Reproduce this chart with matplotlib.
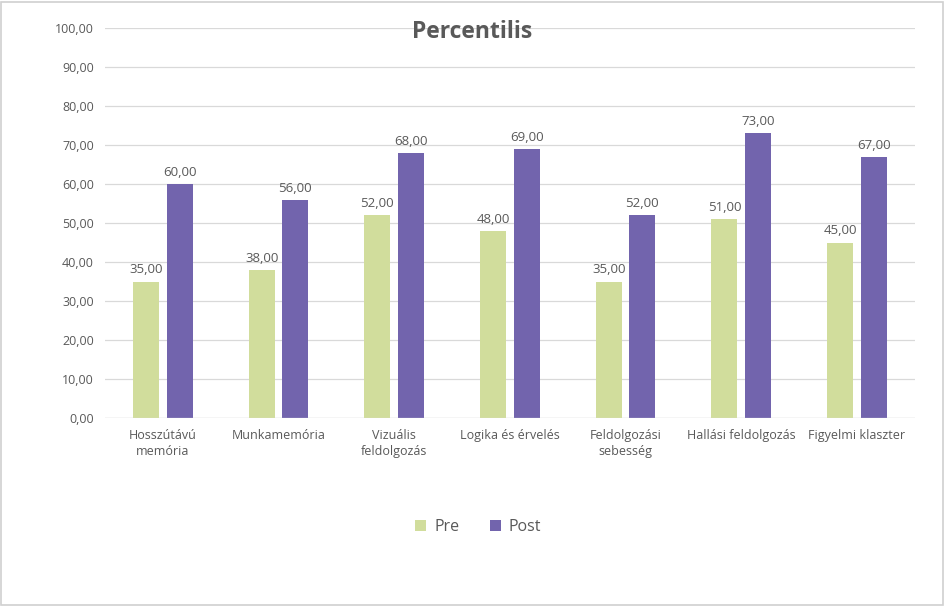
import numpy as np
import matplotlib.pyplot as plt
from matplotlib.patches import Rectangle

plt.rcParams['font.family'] = ['Open Sans', 'DejaVu Sans']

categories = ['Hosszútávú\nmemória', 'Munkamemória', 'Vizuális\nfeldolgozás',
              'Logika és érvelés', 'Feldolgozási\nsebesség',
              'Hallási feldolgozás', 'Figyelmi klaszter']
pre = [35, 38, 52, 48, 35, 51, 45]
post = [60, 56, 68, 69, 52, 73, 67]

pre_color = '#D1DD9C'
post_color = '#7264AD'
text_color = '#595959'


def fmt(v):
    return f'{v:.2f}'.replace('.', ',')


fig = plt.figure(figsize=(9.45, 6.06), dpi=100)
ax = fig.add_axes([0.111, 0.31, 0.857, 0.644])

x = np.arange(len(categories))
w = 0.225
off = 0.145
b1 = ax.bar(x - off, pre, w, color=pre_color, label='Pre', zorder=3)
b2 = ax.bar(x + off, post, w, color=post_color, label='Post', zorder=3)

for bars, vals in ((b1, pre), (b2, post)):
    for b, v in zip(bars, vals):
        ax.text(b.get_x() + b.get_width() / 2, v + 1.3, fmt(v),
                ha='center', va='bottom', fontsize=9.5, color=text_color)

ax.set_xlim(-0.5, len(categories) - 0.5)
ax.set_ylim(0, 100)
ax.set_yticks(np.arange(0, 101, 10))
ax.set_yticklabels([fmt(v) for v in np.arange(0, 101, 10)],
                   fontsize=9, color=text_color)
ax.set_xticks(x)
ax.set_xticklabels(categories, fontsize=9, color=text_color, linespacing=1.3)
ax.tick_params(length=0, pad=8)
ax.yaxis.grid(True, color='#D9D9D9', linewidth=0.9, zorder=0)
for s in ax.spines.values():
    s.set_visible(False)
ax.axhline(0, color='#D9D9D9', linewidth=0.9, zorder=4)

fig.text(0.5, 0.947, 'Percentilis', ha='center', va='center',
         fontsize=16.5, fontweight='bold', color=text_color)

fig.legend(handles=[b1, b2], loc='center', bbox_to_anchor=(0.506, 0.13),
           ncol=2, frameon=False, fontsize=11.5, handlelength=0.7,
           handleheight=0.7, columnspacing=1.9, labelcolor=text_color,
           handletextpad=0.5)

fig.patches.append(Rectangle((0.001, 0.002), 0.997, 0.995,
                             transform=fig.transFigure, fill=False,
                             edgecolor='#D0D0D0', linewidth=1.2))

plt.savefig('out.png', dpi=100)
